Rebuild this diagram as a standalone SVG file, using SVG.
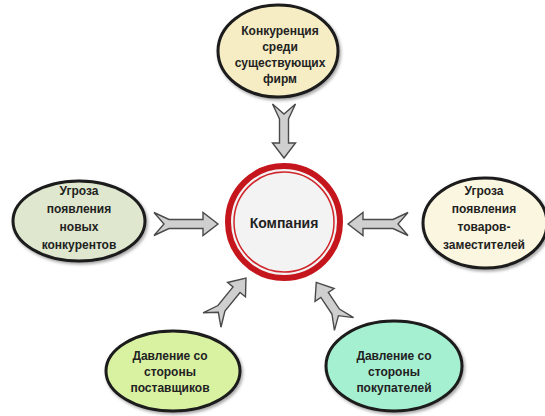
<svg xmlns="http://www.w3.org/2000/svg" width="545" height="416" viewBox="0 0 545 416">
  <style>
    .node { stroke: #1a1a1a; stroke-width: 3; }
    .label { font-family: "Liberation Sans", Arial, sans-serif; font-weight: bold; font-size: 12px; fill: #222; text-anchor: middle; }
    .arrow { fill: #cfcfcf; stroke: #4a4a4a; stroke-width: 1.4; stroke-linejoin: miter; }
  </style>
  <defs>
    <filter id="shadow" x="-20%" y="-20%" width="140%" height="140%">
      <feDropShadow dx="1.5" dy="2" stdDeviation="1.5" flood-color="#000" flood-opacity="0.35"/>
    </filter>
  </defs>
  <rect width="545" height="416" fill="#ffffff"/>

  <!-- block arrows: drawn along +x with the notched tail at the origin -->
  <g id="connectors">
    <path class="arrow" transform="translate(284,104) rotate(90)"
          d="M0,-11.5 L15,-4.5 L39,-4.5 L39,-11.5 L54,0 L39,11.5 L39,4.5 L15,4.5 L0,11.5 L10,0 Z"/>
    <path class="arrow" transform="translate(154,224)"
          d="M0,-11.5 L15,-4.5 L49,-4.5 L49,-11.5 L64,0 L49,11.5 L49,4.5 L15,4.5 L0,11.5 L10,0 Z"/>
    <path class="arrow" transform="translate(408,224) rotate(180)"
          d="M0,-11.5 L15,-4.5 L45,-4.5 L45,-11.5 L60,0 L45,11.5 L45,4.5 L15,4.5 L0,11.5 L10,0 Z"/>
    <path class="arrow" transform="translate(212,320) rotate(-51)"
          d="M0,-11.5 L15,-4.5 L39,-4.5 L39,-11.5 L54,0 L39,11.5 L39,4.5 L15,4.5 L0,11.5 L10,0 Z"/>
    <path class="arrow" transform="translate(344,324) rotate(-123.7)"
          d="M0,-11.5 L15,-4.5 L35,-4.5 L35,-11.5 L50,0 L35,11.5 L35,4.5 L15,4.5 L0,11.5 L10,0 Z"/>
  </g>

  <g id="company">
    <circle cx="284" cy="222" r="56" fill="#f3f3f3" stroke="#c4161c" stroke-width="6"/>
    <circle cx="284" cy="222" r="50" fill="none" stroke="#d0262b" stroke-width="1.5"/>
    <text class="label" x="284" y="228" style="font-size:14px">Компания</text>
  </g>

  <g id="rivalry">
    <ellipse class="node" cx="278" cy="51" rx="60" ry="46" fill="#f6edc4" filter="url(#shadow)"/>
    <text class="label" x="280" y="35">Конкуренция</text>
    <text class="label" x="280" y="51">среди</text>
    <text class="label" x="280" y="67">существующих</text>
    <text class="label" x="280" y="83">фирм</text>
  </g>

  <g id="new-entrants">
    <ellipse class="node" cx="79" cy="221" rx="66" ry="40" fill="#dfe8cf" filter="url(#shadow)"/>
    <text class="label" x="79" y="195">Угроза</text>
    <text class="label" x="79" y="213">появления</text>
    <text class="label" x="79" y="231">новых</text>
    <text class="label" x="79" y="249">конкурентов</text>
  </g>

  <g id="substitutes">
    <ellipse class="node" cx="485" cy="223" rx="62" ry="45" fill="#fbf6df" filter="url(#shadow)"/>
    <text class="label" x="484" y="195">Угроза</text>
    <text class="label" x="484" y="213">появления</text>
    <text class="label" x="484" y="231">товаров-</text>
    <text class="label" x="484" y="249">заместителей</text>
  </g>

  <g id="suppliers">
    <ellipse class="node" cx="173" cy="371" rx="67" ry="40" fill="#d9f2a2" filter="url(#shadow)"/>
    <text class="label" x="170" y="360">Давление со</text>
    <text class="label" x="170" y="376">стороны</text>
    <text class="label" x="170" y="392">поставщиков</text>
  </g>

  <g id="buyers">
    <ellipse class="node" cx="394" cy="366" rx="68" ry="45" fill="#a6f0d2" filter="url(#shadow)"/>
    <text class="label" x="394" y="360">Давление со</text>
    <text class="label" x="394" y="376">стороны</text>
    <text class="label" x="394" y="392">покупателей</text>
  </g>
</svg>
